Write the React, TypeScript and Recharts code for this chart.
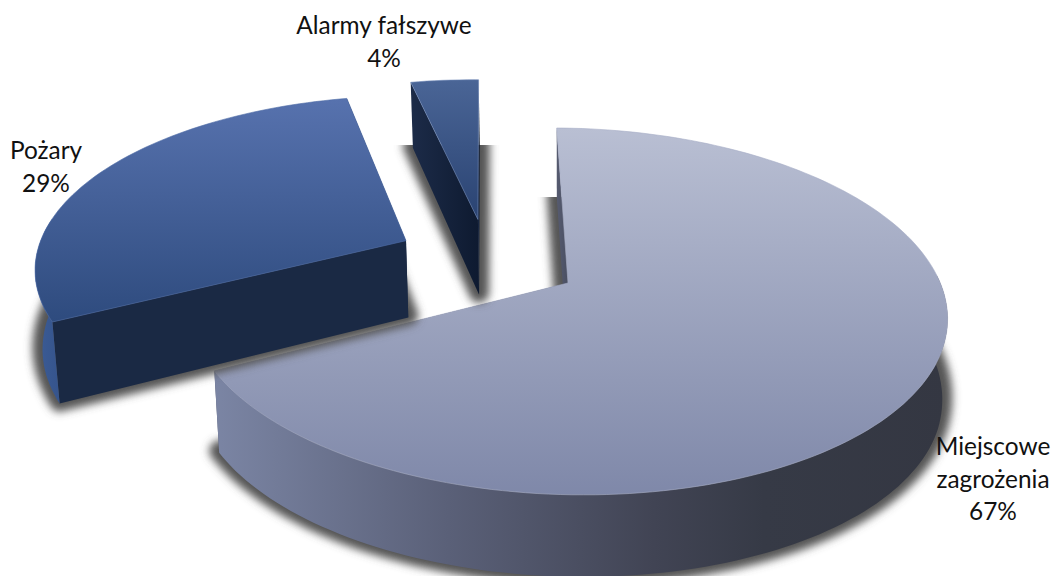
import React from "react";
import { Pie, PieChart } from "recharts";

const sliceNames = ["Miejscowe zagrożenia", "Pożary", "Alarmy fałszywe"];
const sliceValues = [67.4, 29.1, 3.5];
const sliceShares = ["67%", "29%", "4%"];

// how far each slice is pulled out of the pie, on the pie's plane
const explodeX = [0, -0.447, -0.254];
const explodeY = [0, 0.226, 0.365];

// colours per slice
const topFrom = ["#b9bfd3", "#5772ae", "#4a6596"];
const topTo = ["#7f88a9", "#2e4b7e", "#2a4372"];
const rimColor = ["#a7aec6", "#4f6ca6", "#6f88b8"];
const sideStops = [
  [
    [0, "#7b85a4"],
    [0.32, "#5a6078"],
    [0.6, "#414454"],
    [0.75, "#363a46"],
    [1, "#343742"],
  ],
  [
    [0, "#3c5c96"],
    [1, "#35548c"],
  ],
  [
    [0, "#1a2842"],
    [1, "#1a2842"],
  ],
];
const wallFrom = ["#565b70", "#1a2944", "#1c2b48"];
const wallTo = ["#4a4f62", "#1a2944", "#0e1a30"];

const labelLines = [["Miejscowe", "zagrożenia", "67%"], ["Pożary", "29%"], ["Alarmy fałszywe", "4%"]];
const labelX = [993, 46, 384];
const labelY = [455, 159, 34];
const LINE_GAP = 32.5;

const FONT = "Lato, 'Open Sans', sans-serif";
const TILT = 0.477; // vertical squash of the pie
const PERSP = 0.155; // far side shrinks by this
const SHEAR = 0.02; // left side sits a little higher than the right

const chartData = sliceNames.map((name, i) => ({ name, value: sliceValues[i], share: sliceShares[i] }));

type Pt = { x: number; y: number };

function SliceShape(props: any) {
  const { cx, cy, outerRadius, startAngle, endAngle, name } = props;
  const i = sliceNames.indexOf(name);

  const top = (gx: number, gy: number): Pt => {
    const w = 1 + PERSP * gy;
    const x = cx + (outerRadius * gx) / w;
    return { x, y: cy - (outerRadius * TILT * gy) / w + SHEAR * (x - cx) };
  };
  const bottom = (gx: number, gy: number): Pt => {
    const p = top(gx, gy);
    return { x: cx + (p.x - cx) * 0.986, y: p.y + Math.min(82, 79 - 10 * gy) };
  };
  const toPath = (pts: Pt[]) => pts.map((p, k) => `${k ? "L" : "M"}${p.x.toFixed(1)} ${p.y.toFixed(1)}`).join(" ") + " Z";

  // recharts hands angles counter-clockwise from east, ground angle is clockwise from north
  const a0 = 90 - startAngle;
  const a1 = 90 - endAngle;
  const ox = explodeX[i];
  const oy = explodeY[i];
  const ground = (deg: number) => {
    const r = (deg * Math.PI) / 180;
    return [ox + Math.sin(r), oy + Math.cos(r)] as [number, number];
  };

  const steps: number[] = [];
  for (let d = a0; d < a1; d += 1.5) steps.push(d);
  steps.push(a1);

  const apexTop = top(ox, oy);
  const apexBottom = bottom(ox, oy);
  const arcTop = steps.map((d) => top(...ground(d)));
  const arcBottom = steps.map((d) => bottom(...ground(d)));

  const front = steps.filter((d) => Math.cos((d * Math.PI) / 180) < 0.1);
  const frontTop = front.map((d) => top(...ground(d)));
  const frontBottom = front.map((d) => bottom(...ground(d)));

  const wall = (a: Pt, b: Pt) => toPath([a, apexTop, apexBottom, b]);
  const shadowTop = Math.min(...arcBottom.map((p) => p.y));

  return (
    <g>
      <defs>
        <filter id={`blur${i}`} filterUnits="userSpaceOnUse" x={0} y={0} width={1056} height={600}>
          <feGaussianBlur stdDeviation="4.5" />
        </filter>
        <clipPath id={`shadowClip${i}`}>
          <rect x={0} y={shadowTop} width={1056} height={576} />
        </clipPath>
        <linearGradient id={`top${i}`} x1="0" y1="0" x2="0" y2="1">
          <stop offset="0" stopColor={topFrom[i]} />
          <stop offset="1" stopColor={topTo[i]} />
        </linearGradient>
        <linearGradient id={`side${i}`} x1="0" y1="0" x2="1" y2="0">
          {sideStops[i].map(([at, color]) => (
            <stop key={at} offset={at} stopColor={color as string} />
          ))}
        </linearGradient>
        <linearGradient id={`wall${i}`} x1="0" y1="0" x2="1" y2="0">
          <stop offset="0" stopColor={wallFrom[i]} />
          <stop offset="1" stopColor={wallTo[i]} />
        </linearGradient>
      </defs>
      <g clipPath={`url(#shadowClip${i})`}>
        <path
          d={toPath([apexBottom, ...arcBottom])}
          transform="translate(0 -2)"
          fill="#555"
          stroke="#555"
          strokeWidth={20}
          strokeLinejoin="round"
          filter={`url(#blur${i})`}
        />
      </g>
      <path d={wall(arcTop[0], arcBottom[0])} fill={`url(#wall${i})`} />
      <path d={wall(arcTop[arcTop.length - 1], arcBottom[arcBottom.length - 1])} fill={`url(#wall${i})`} />
      {front.length > 1 && <path d={toPath([...frontTop, ...[...frontBottom].reverse()])} fill={`url(#side${i})`} />}
      <path
        d={toPath([apexTop, ...arcTop])}
        fill={`url(#top${i})`}
        stroke={rimColor[i]}
        strokeWidth={1}
        strokeOpacity={0.6}
        strokeLinejoin="round"
      />
    </g>
  );
}

function SliceLabel(props: any) {
  const i = props.index;
  return (
    <text textAnchor="middle" fontFamily={FONT} fontSize={24.4} fill="#111">
      {labelLines[i].map((line, k) => (
        <tspan key={line} x={labelX[i]} y={labelY[i] + k * LINE_GAP}>
          {line}
        </tspan>
      ))}
    </text>
  );
}

export default function App() {
  return (
    <div style={{ position: "absolute", left: 0, top: 0 }}>
      <PieChart width={1056} height={576} margin={{ top: 0, right: 0, bottom: 0, left: 0 }}>
        <Pie
          data={chartData}
          dataKey="value"
          nameKey="name"
          cx={568}
          cy={283}
          outerRadius={375}
          startAngle={92}
          endAngle={-268}
          stroke="none"
          shape={SliceShape}
          label={SliceLabel}
          labelLine={false}
          isAnimationActive={false}
        />
      </PieChart>
    </div>
  );
}
